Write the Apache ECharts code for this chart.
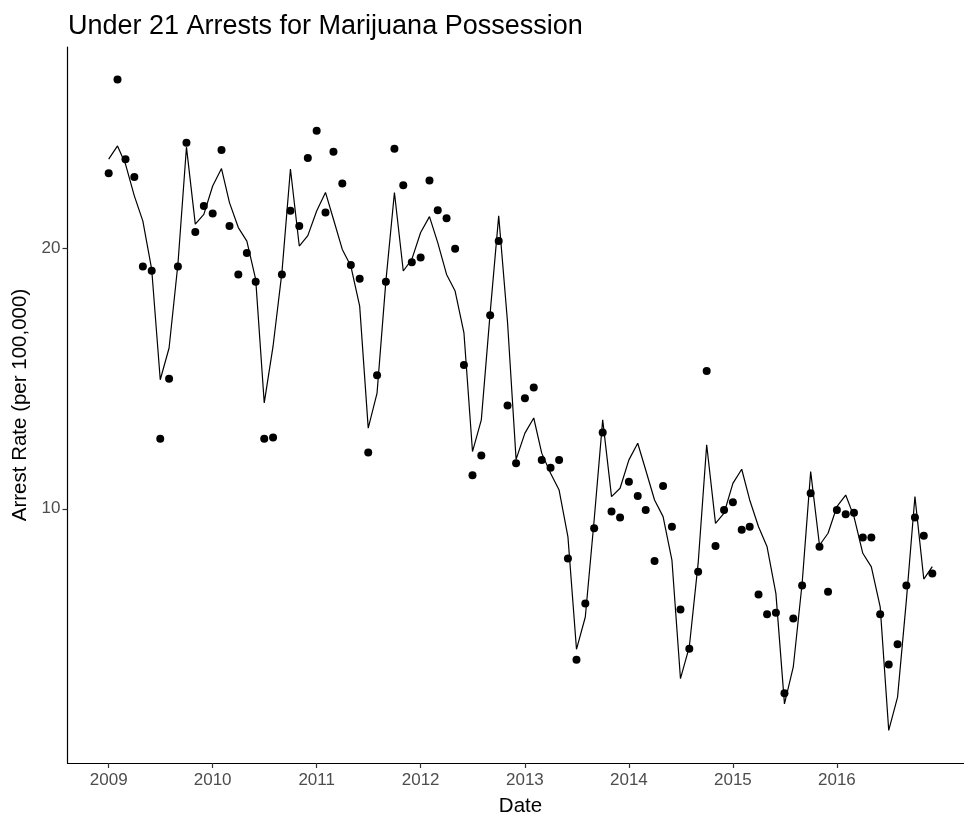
<!DOCTYPE html>
<html>
<head>
<meta charset="utf-8">
<title>Under 21 Arrests for Marijuana Possession</title>
<script src="https://cdn.jsdelivr.net/npm/echarts@6/dist/echarts.min.js"></script>
<style>
  html, body { margin: 0; padding: 0; background: #fff; }
  #chart { width: 964px; height: 819px; }
</style>
</head>
<body>
<div id="chart"></div>
<script>
// Monthly series, January 2009 through December 2016
const years = [2009, 2010, 2011, 2012, 2013, 2014, 2015, 2016];
const tickYears = [2009, 2010, 2011, 2012, 2013, 2014, 2015, 2016];
const yTicks = [10, 20];

// Observed arrest rate per 100,000 (one value per month)
const arrestRate = [
  22.90, 26.50, 23.44, 22.75, 19.31, 19.15, 12.69, 15.00, 19.31, 24.07, 20.64, 21.64,
  21.35, 23.79, 20.87, 19.01, 19.83, 18.73, 12.69, 12.74, 19.01, 21.46, 20.87, 23.48,
  24.53, 21.39, 23.72, 22.50, 19.37, 18.84, 12.16, 15.13, 18.73, 23.84, 22.44, 19.48,
  19.66, 22.62, 21.48, 21.17, 20.00, 15.53, 11.29, 12.05, 17.44, 20.29, 13.97, 11.75,
  14.25, 14.66, 11.88, 11.58, 11.88, 8.09, 4.20, 6.36, 9.25, 12.93, 9.90, 9.67,
  11.04, 10.49, 9.95, 7.99, 10.88, 9.31, 6.13, 4.62, 7.58, 15.30, 8.57, 9.95,
  10.25, 9.19, 9.31, 6.71, 5.95, 6.00, 2.91, 5.78, 7.05, 10.60, 8.54, 6.81,
  9.95, 9.79, 9.85, 8.90, 8.90, 5.95, 4.02, 4.79, 7.05, 9.67, 8.96, 7.51
];

// Fitted (model) arrest rate per 100,000
const fittedRate = [
  23.44, 23.95, 23.25, 22.03, 21.06, 19.20, 14.96, 16.18, 19.40, 23.90, 20.94, 21.32,
  22.41, 23.08, 21.77, 20.81, 20.29, 18.82, 14.07, 16.25, 19.08, 23.06, 20.10, 20.50,
  21.45, 22.16, 21.13, 19.97, 19.33, 17.79, 13.10, 14.45, 18.75, 22.16, 19.14, 19.59,
  20.62, 21.23, 20.23, 19.01, 18.37, 16.76, 12.20, 13.42, 17.53, 21.26, 17.17, 11.90,
  12.91, 13.49, 12.14, 11.37, 10.72, 8.92, 4.60, 5.84, 9.57, 13.42, 10.47, 10.79,
  11.88, 12.52, 11.49, 10.34, 9.70, 8.03, 3.47, 4.69, 7.90, 12.46, 9.44, 9.83,
  10.98, 11.52, 10.34, 9.31, 8.54, 6.74, 2.50, 3.92, 7.13, 11.43, 8.60, 9.06,
  10.08, 10.53, 9.70, 8.29, 7.77, 6.23, 1.48, 2.76, 6.49, 10.47, 7.30, 7.78
];

// Dates are expressed as days since 1970-01-01 (first day of each month)
const DAY = 86400000;
const toDays = (y, m) => Date.UTC(y, m, 1) / DAY;
const monthDays = [];
years.forEach(y => { for (let m = 0; m < 12; m++) monthDays.push(toDays(y, m)); });

const pointData = monthDays.map((d, i) => [d, arrestRate[i]]);
const lineData = monthDays.map((d, i) => [d, fittedRate[i]]);

// Axis limits padded by 5% of the data span on each side
const dMin = monthDays[0], dMax = monthDays[monthDays.length - 1];
const dPad = (dMax - dMin) * 0.05;
const allVals = arrestRate.concat(fittedRate);
const vMin = Math.min(...allVals), vMax = Math.max(...allVals);
const vPad = (vMax - vMin) * 0.05;
const yearTicks = tickYears.map(y => toDays(y, 0));

const FONT = '"Liberation Sans", Arial, Helvetica, sans-serif';

const chart = echarts.init(document.getElementById('chart'), null, { renderer: 'canvas' });
chart.setOption({
  animation: false,
  backgroundColor: '#ffffff',
  title: {
    text: 'Under 21 Arrests for Marijuana Possession',
    left: 63,
    top: 8,
    textStyle: { fontFamily: FONT, fontSize: 27, fontWeight: 'normal', color: '#000000' }
  },
  // The panel runs a little past the right edge of the canvas
  grid: {
    left: 67.5, top: 47, width: 906, height: 716,
    containLabel: false,
    outerBoundsMode: 'none'
  },
  xAxis: {
    type: 'value',
    min: dMin - dPad,
    max: dMax + dPad,
    name: 'Date',
    nameLocation: 'middle',
    nameGap: 33,
    nameTextStyle: { fontFamily: FONT, fontSize: 20.5, color: '#000000' },
    axisLine: { show: true, lineStyle: { color: '#000000', width: 1.2 } },
    axisTick: { show: true, customValues: yearTicks, length: 5, lineStyle: { color: '#333333', width: 1.2 } },
    axisLabel: {
      customValues: yearTicks,
      margin: 9,
      fontFamily: FONT, fontSize: 17, color: '#4d4d4d',
      formatter: v => String(new Date(v * DAY).getUTCFullYear())
    },
    splitLine: { show: false }
  },
  yAxis: {
    type: 'value',
    min: vMin - vPad,
    max: vMax + vPad,
    name: 'Arrest Rate (per 100,000)',
    nameLocation: 'middle',
    nameGap: 36,
    nameRotate: 90,
    nameTextStyle: { fontFamily: FONT, fontSize: 20.5, color: '#000000' },
    axisLine: { show: true, lineStyle: { color: '#000000', width: 1.2 } },
    axisTick: { show: true, customValues: yTicks, length: 5, lineStyle: { color: '#333333', width: 1.2 } },
    axisLabel: {
      customValues: yTicks,
      margin: 7,
      fontFamily: FONT, fontSize: 17, color: '#4d4d4d'
    },
    splitLine: { show: false }
  },
  series: [
    {
      name: 'Fitted',
      type: 'line',
      data: lineData,
      showSymbol: false,
      smooth: false,
      lineStyle: { color: '#000000', width: 1.2 },
      z: 2
    },
    {
      name: 'Observed',
      type: 'scatter',
      data: pointData,
      symbol: 'circle',
      symbolSize: 8,
      itemStyle: { color: '#000000', opacity: 1 },
      z: 3
    }
  ]
});
</script>
</body>
</html>
